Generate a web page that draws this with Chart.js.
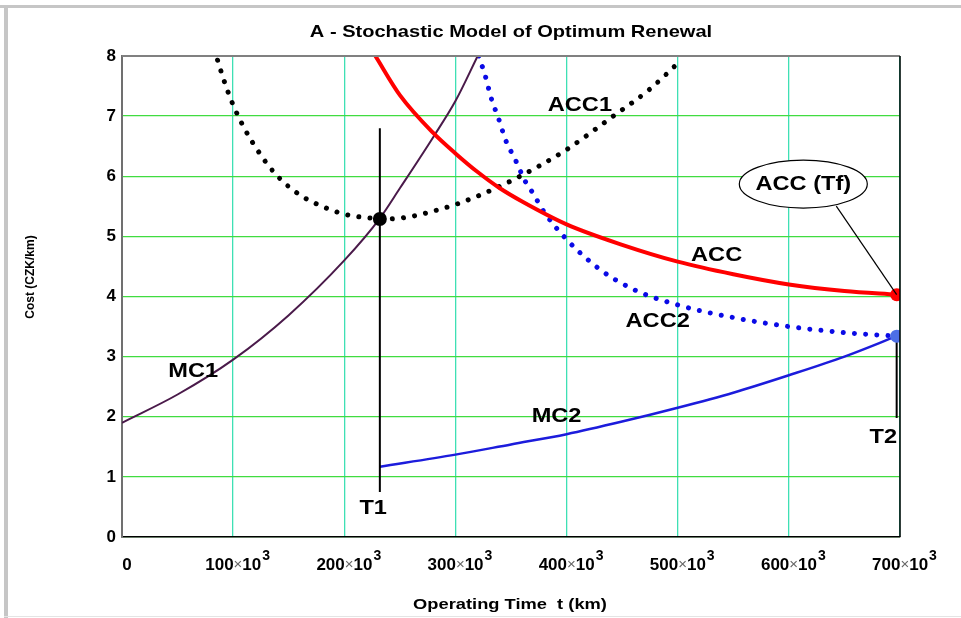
<!DOCTYPE html>
<html>
<head>
<meta charset="utf-8">
<title>A - Stochastic Model of Optimum Renewal</title>
<script src="https://cdn.jsdelivr.net/npm/chart.js"></script>
<style>
  html, body { margin: 0; padding: 0; background: #fff; }
  #wrap { position: relative; width: 961px; height: 618px; }
</style>
</head>
<body>
<div id="wrap"><canvas id="c" width="961" height="618"></canvas></div>
<script>
// operating time t in km, cost in CZK/km
const xTickLabels = ['0', '100×10³', '200×10³', '300×10³', '400×10³', '500×10³', '600×10³', '700×10³'];
const yTickLabels = ['0', '1', '2', '3', '4', '5', '6', '7', '8'];

const mc1T    = [0, 50000, 100000, 150000, 200000, 232000, 250000, 280000, 300000, 320000];
const mc1Cost = [1.9, 2.37, 2.95, 3.69, 4.6, 5.3, 5.8, 6.65, 7.25, 8.0];

const acc1T    = [86000, 92000, 99000, 110000, 125000, 140000, 160000, 180000, 200000, 220000, 240000, 260000, 280000, 300000, 320000, 354000, 398000, 442000, 475000, 503000];
const acc1Cost = [7.93, 7.58, 7.23, 6.8, 6.35, 6.0, 5.69, 5.5, 5.37, 5.31, 5.29, 5.33, 5.42, 5.53, 5.67, 5.96, 6.42, 7.0, 7.45, 7.93];

const accT    = [228000, 250000, 280000, 300000, 320000, 340000, 360000, 400000, 450000, 500000, 550000, 600000, 650000, 697000];
const accCost = [8.0, 7.35, 6.72, 6.38, 6.07, 5.8, 5.58, 5.2, 4.86, 4.58, 4.37, 4.2, 4.09, 4.03];

const acc2T    = [321000, 327000, 332000, 339000, 345000, 354000, 363000, 369000, 380000, 400000, 430000, 460000, 500000, 550000, 600000, 650000, 697000];
const acc2Cost = [8.0, 7.66, 7.31, 6.95, 6.61, 6.27, 5.91, 5.74, 5.4, 4.95, 4.45, 4.12, 3.86, 3.65, 3.5, 3.4, 3.34];

const mc2T    = [232000, 300000, 350000, 400000, 450000, 500000, 550000, 600000, 650000, 697000];
const mc2Cost = [1.17, 1.37, 1.54, 1.71, 1.92, 2.15, 2.4, 2.69, 3.0, 3.34];

// optimum points T1 (ACC1 minimum) and T2 (ACC(Tf))
const t1 = 232000, t1Cost = 5.29;
const t2 = 697000, t2Acc = 4.03, t2Acc2 = 3.34;
const t1LineCost = [0.75, 6.8];
const t2LineCost = [1.98, 3.34];

function pts(xs, ys){ return xs.map((x, i)=>({x: x, y: ys[i]})); }

const FONT = "'Liberation Sans', Arial, sans-serif";
const STRETCH = 1.18;   // the source text is a bit wide

// text annotations in data coordinates
const notes = [
    {text: 'MC1',  t: 64000,  c: 2.75},
    {text: 'T1',   t: 226000, c: 0.48},
    {text: 'MC2',  t: 391000, c: 2.01},
    {text: 'ACC1', t: 412000, c: 7.17},
    {text: 'ACC',  t: 535000, c: 4.69},
    {text: 'ACC2', t: 482000, c: 3.58},
    {text: 'T2',   t: 685000, c: 1.66}
];
const callout = {text: 'ACC (Tf)', t: 613000, c: 5.87};

function wideText(ctx, s, x, y, k){
    ctx.save(); ctx.translate(x, y); ctx.scale(k, 1); ctx.fillText(s, 0, 0); ctx.restore();
}

// "100×10³" drawn with a real superscript
function tickLabel(ctx, s, cx, y){
    if(s.length === 1){ ctx.font = 'bold 17px ' + FONT; ctx.textAlign = 'center'; ctx.fillText(s, cx + 5, y); return; }
    const parts = s.replace('³', '').split('×');
    const pieces = [
        {s: parts[0], f: 'bold 17px ' + FONT, c: '#000', dy: 0},
        {s: '×', f: '15px ' + FONT, c: '#666', dy: 0},
        {s: parts[1], f: 'bold 17px ' + FONT, c: '#000', dy: 0},
        {s: '3', f: 'bold 14px ' + FONT, c: '#000', dy: -9}
    ];
    let w = 0;
    pieces.forEach(p=>{ ctx.font = p.f; p.w = ctx.measureText(p.s).width; w += p.w; });
    let x = cx + 4 - w/2;
    ctx.textAlign = 'left';
    pieces.forEach(p=>{ ctx.font = p.f; ctx.fillStyle = p.c; ctx.fillText(p.s, x, y + p.dy); x += p.w + (p.s === '10' ? 1 : 0); });
    ctx.fillStyle = '#000';
}

const decor = {
    id: 'decor',
    beforeDraw(chart){
        const ctx = chart.ctx;
        ctx.save();
        ctx.fillStyle = '#c6c6c6';
        ctx.fillRect(0, 5, 961, 3);
        ctx.fillRect(4, 5, 4, 613);
        ctx.fillStyle = '#e4e4e4';
        ctx.fillRect(4, 616, 957, 1);
        ctx.restore();
    },
    afterDraw(chart){
        const ctx = chart.ctx, a = chart.chartArea;
        const xs = chart.scales.x, ys = chart.scales.y;
        ctx.save();
        // top and right frame of the plot
        ctx.strokeStyle = '#808080'; ctx.lineWidth = 2;
        ctx.beginPath(); ctx.moveTo(a.left, a.top); ctx.lineTo(a.right, a.top); ctx.stroke();
        ctx.strokeStyle = '#000'; ctx.lineWidth = 1.5;
        ctx.beginPath(); ctx.moveTo(a.right, a.top); ctx.lineTo(a.right, a.bottom); ctx.stroke();

        ctx.fillStyle = '#000';
        ctx.textBaseline = 'middle';
        xTickLabels.forEach((s, i)=>{ tickLabel(ctx, s, xs.getPixelForValue(i*100000), 565); });

        ctx.textAlign = 'center';
        ctx.font = 'bold 17px ' + FONT;
        wideText(ctx, 'A - Stochastic Model of Optimum Renewal', 511, 32, STRETCH);
        ctx.font = 'bold 15px ' + FONT;
        wideText(ctx, 'Operating Time  t (km)', 510, 605, 1.22);
        ctx.save();
        ctx.translate(31, 277); ctx.rotate(-Math.PI/2);
        ctx.font = 'bold 12px ' + FONT;
        ctx.fillText('Cost (CZK/km)', 0, 0);
        ctx.restore();

        ctx.font = 'bold 20px ' + FONT;
        notes.forEach(n=>{
            wideText(ctx, n.text, xs.getPixelForValue(n.t), ys.getPixelForValue(n.c), STRETCH);
        });

        // callout ellipse with leader to ACC(Tf)
        const cx = xs.getPixelForValue(callout.t), cy = ys.getPixelForValue(callout.c);
        const px = xs.getPixelForValue(t2), py = ys.getPixelForValue(t2Acc);
        ctx.strokeStyle = '#000'; ctx.lineWidth = 1.2;
        ctx.beginPath(); ctx.moveTo(cx + 33, cy + 22); ctx.lineTo(px, py); ctx.stroke();
        ctx.fillStyle = '#fff';
        ctx.beginPath(); ctx.ellipse(cx, cy, 64, 24, 0, 0, Math.PI*2); ctx.fill(); ctx.stroke();
        ctx.fillStyle = '#000';
        wideText(ctx, callout.text, cx, cy, STRETCH);
        ctx.restore();
    }
};

new Chart(document.getElementById('c'), {
    type: 'scatter',
    data: {
        datasets: [
            {label: 'T1 point', data: [{x: t1, y: t1Cost}], pointRadius: 7, pointBackgroundColor: '#000', pointBorderWidth: 0, order: 0},
            {label: 'ACC(Tf)', data: [{x: t2, y: t2Acc}], pointRadius: 6.5, pointBackgroundColor: '#ff0000', pointBorderWidth: 0, order: 0},
            {label: 'ACC2(Tf)', data: [{x: t2, y: t2Acc2}], pointRadius: 6.5, pointBackgroundColor: '#4d6fe6', pointBorderWidth: 0, order: 0},
            {label: 'T1', data: pts([t1, t1], t1LineCost), showLine: true, borderColor: '#000', borderWidth: 2, pointRadius: 0, order: 1},
            {label: 'T2', data: pts([t2, t2], t2LineCost), showLine: true, borderColor: '#000', borderWidth: 2, pointRadius: 0, order: 1},
            {label: 'MC1', data: pts(mc1T, mc1Cost), showLine: true, borderColor: '#4a1a4a', borderWidth: 2, pointRadius: 0, cubicInterpolationMode: 'monotone', order: 3},
            {label: 'MC2', data: pts(mc2T, mc2Cost), showLine: true, borderColor: '#1c1cdc', borderWidth: 2.5, pointRadius: 0, cubicInterpolationMode: 'monotone', order: 3},
            {label: 'ACC1', data: pts(acc1T, acc1Cost), showLine: true, borderColor: '#000', borderWidth: 5, borderDash: [0.01, 11.2], borderCapStyle: 'round', pointRadius: 0, cubicInterpolationMode: 'monotone', order: 4},
            {label: 'ACC2', data: pts(acc2T, acc2Cost), showLine: true, borderColor: '#0a0ae6', borderWidth: 5, borderDash: [0.01, 11.2], borderCapStyle: 'round', pointRadius: 0, cubicInterpolationMode: 'monotone', order: 4},
            {label: 'ACC', data: pts(accT, accCost), showLine: true, borderColor: '#ff0000', borderWidth: 4, pointRadius: 0, cubicInterpolationMode: 'monotone', order: 2}
        ]
    },
    options: {
        responsive: false,
        animation: false,
        layout: {padding: {top: 56, right: 61, bottom: 0, left: 0}},
        plugins: {legend: {display: false}, tooltip: {enabled: false}, title: {display: false}},
        scales: {
            x: {
                type: 'linear', min: 0, max: 700000,
                afterFit(s){ s.height = 81; },
                ticks: {stepSize: 100000, display: false, autoSkip: false},
                grid: {color: '#3ee0b4', lineWidth: 1.3, drawTicks: false},
                border: {color: '#000', width: 1.5}
            },
            y: {
                min: 0, max: 8,
                afterFit(s){ s.width = 122; },
                ticks: {
                    stepSize: 1, padding: 6, color: '#000',
                    font: {family: FONT, size: 17, weight: 'bold'},
                    callback: v => yTickLabels[Math.round(v)]
                },
                grid: {color: '#40dc40', lineWidth: 1.3, drawTicks: false},
                border: {color: '#707070', width: 2}
            }
        }
    },
    plugins: [decor]
});
</script>
</body>
</html>
